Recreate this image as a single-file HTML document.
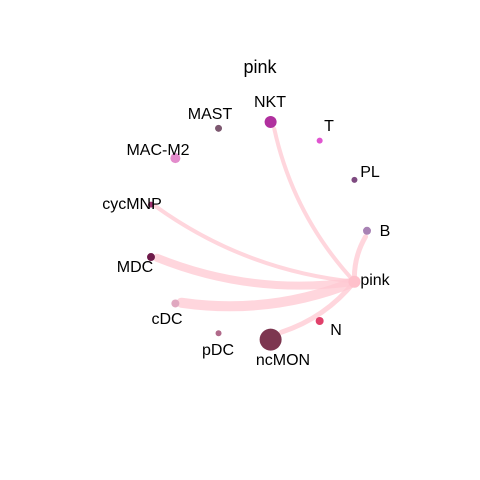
<!DOCTYPE html>
<html><head><meta charset="utf-8"><style>
html,body{margin:0;padding:0;background:#fff;}
svg{display:block;font-family:"Liberation Sans",Arial,sans-serif;}
</style></head><body>
<svg id="chart" width="480" height="480" viewBox="0 0 480 480">
<text x="260" y="73" font-size="18" text-anchor="middle">pink</text>
<g id="edges"></g>
<g id="nodes"></g>
<g id="labels"></g>
</svg>
<script>
const cellTypes = ["B","PL","T","NKT","MAST","MAC-M2","cycMNP","MDC","cDC","pDC","ncMON","N","pink"];
const nodeSizes = [4,3,3,6,3.5,5,3,4,4,3,11,4,6];
const nodeColors = ["#a882b4","#7e4a80","#e055d0","#b0309e","#7d5870","#e38ccc","#a0306f","#6e1a4a","#e0a8c0","#b06a8a","#7d3650","#e0406a","#ffc0cb"];
const source = "pink";
const targets = ["B","NKT","cycMNP","MDC","cDC","ncMON"];
const weights = [5,4,4,8,10,5];
const labelPos = {"B":[385,236],"PL":[370,177],"T":[329,131],"NKT":[270,107],"MAST":[210,119],"MAC-M2":[158,155],"cycMNP":[132,209],"MDC":[135,272],"cDC":[167,324],"pDC":[218,355],"ncMON":[283,365],"N":[336,335],"pink":[375,285]};

const NS="http://www.w3.org/2000/svg";
const cx=257.4, cy=230.8, R=109.6;
function pos(i){const a=i*2*Math.PI/cellTypes.length;return [cx+R*Math.cos(a), cy-R*Math.sin(a)];}
const eg=document.getElementById('edges'), ng=document.getElementById('nodes'), lg=document.getElementById('labels');
const si=cellTypes.indexOf(source), sp=pos(si);
targets.forEach((t,k)=>{
  const tp=pos(cellTypes.indexOf(t));
  const dx=tp[0]-sp[0], dy=tp[1]-sp[1];
  const L=Math.hypot(dx,dy);
  const ux=dx/L, uy=dy/L;
  const ex=tp[0]-ux*(nodeSizes[cellTypes.indexOf(t)]+2), ey=tp[1]-uy*(nodeSizes[cellTypes.indexOf(t)]+2);
  const mx=(sp[0]+ex)/2+dy*0.13, my=(sp[1]+ey)/2-dx*0.13;
  const p=document.createElementNS(NS,'path');
  p.setAttribute('d',`M${sp[0]},${sp[1]} Q${mx},${my} ${ex},${ey}`);
  p.setAttribute('fill','none');p.setAttribute('stroke','#ffc8d2');p.setAttribute('stroke-opacity','0.75');
  p.setAttribute('stroke-width',weights[k]);p.setAttribute('stroke-linecap','round');
  
  
  eg.appendChild(p);
});
cellTypes.forEach((c,i)=>{
  const p=pos(i);
  const n=document.createElementNS(NS,'circle');
  n.setAttribute('cx',p[0]);n.setAttribute('cy',p[1]);n.setAttribute('r',nodeSizes[i]);n.setAttribute('fill',nodeColors[i]);
  
  
  ng.appendChild(n);
  const t=document.createElementNS(NS,'text');
  t.setAttribute('x',labelPos[c][0]);t.setAttribute('y',labelPos[c][1]);t.setAttribute('font-size','16');t.setAttribute('text-anchor','middle');
  t.textContent=c;
  
  
  lg.appendChild(t);
});
</script>
</body></html>
